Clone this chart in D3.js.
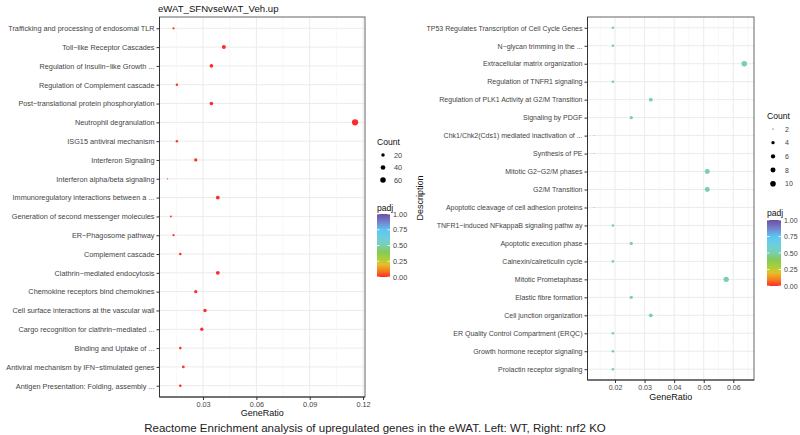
<!DOCTYPE html>
<html><head><meta charset="utf-8">
<script src="https://cdn.jsdelivr.net/npm/d3@7"></script>
<style>body{margin:0;background:#fff;} svg{display:block;} text{font-family:"Liberation Sans",Arial,Helvetica,sans-serif;}</style>
</head><body><svg id="c" width="800" height="435"></svg>
<script>
// ---------- DATA ----------
const leftTitle = "eWAT_SFNvseWAT_Veh.up";
const caption = "Reactome Enrichment analysis of upregulated genes in the eWAT. Left: WT, Right: nrf2 KO";

const leftTerms = [
  "Trafficking and processing of endosomal TLR",
  "Toll\u2212like Receptor Cascades",
  "Regulation of Insulin\u2212like Growth ...",
  "Regulation of Complement cascade",
  "Post\u2212translational protein phosphorylation",
  "Neutrophil degranulation",
  "ISG15 antiviral mechanism",
  "Interferon Signaling",
  "Interferon alpha/beta signaling",
  "Immunoregulatory interactions between a ...",
  "Generation of second messenger molecules",
  "ER\u2212Phagosome pathway",
  "Complement cascade",
  "Clathrin\u2212mediated endocytosis",
  "Chemokine receptors bind chemokines",
  "Cell surface interactions at the vascular wall",
  "Cargo recognition for clathrin\u2212mediated ...",
  "Binding and Uptake of ...",
  "Antiviral mechanism by IFN\u2212stimulated genes",
  "Antigen Presentation: Folding, assembly ..."
];
const leftRatio = [0.0134,0.0417,0.0347,0.0153,0.0347,0.1155,0.0153,0.0259,0.0100,0.0383,
                   0.0119,0.0134,0.0172,0.0383,0.0259,0.0311,0.0293,0.0172,0.0189,0.0172];
const leftCount = [7,22,18,8,18,61,8,14,5,20,6,7,9,20,14,16,15,9,10,9];
const leftPadj  = [0.01,0.001,0.002,0.01,0.002,0.0001,0.01,0.005,0.02,0.001,
                   0.02,0.01,0.01,0.001,0.005,0.003,0.004,0.01,0.01,0.01];

const rightTerms = [
  "TP53 Regulates Transcription of Cell Cycle Genes",
  "N\u2212glycan trimming in the ...",
  "Extracellular matrix organization",
  "Regulation of TNFR1 signaling",
  "Regulation of PLK1 Activity at G2/M Transition",
  "Signaling by PDGF",
  "Chk1/Chk2(Cds1) mediated inactivation of ...",
  "Synthesis of PE",
  "Mitotic G2\u2212G2/M phases",
  "G2/M Transition",
  "Apoptotic cleavage of cell adhesion  proteins",
  "TNFR1\u2212induced NFkappaB signaling pathw ay",
  "Apoptotic execution phase",
  "Calnexin/calreticulin cycle",
  "Mitotic Prometaphase",
  "Elastic fibre formation",
  "Cell junction organization",
  "ER Quality Control Compartment (ERQC)",
  "Growth hormone receptor signaling",
  "Prolactin receptor signaling"
];
const rightRatio = [0.0193,0.0193,0.0637,0.0193,0.0321,0.0255,0.0129,0.0129,0.0512,0.0512,
                    0.0129,0.0193,0.0255,0.0193,0.0576,0.0255,0.0321,0.0193,0.0193,0.0193];
const rightCount = [3,3,10,3,5,4,2,2,8,8,2,3,4,3,9,4,5,3,3,3];
const rightPadj  = [0.5,0.5,0.5,0.5,0.5,0.5,0.5,0.5,0.5,0.5,0.5,0.5,0.5,0.5,0.5,0.5,0.5,0.5,0.5,0.5];

const leftXTicks = [0.03,0.06,0.09,0.12];
const rightXTicks = [0.02,0.03,0.04,0.05,0.06];
const leftSizeBreaks = [20,40,60];
const rightSizeBreaks = [2,4,6,8,10];
const padjBreaks = [0,0.25,0.5,0.75,1];
const padjLabels = ["0.00","0.25","0.50","0.75","1.00"];

// palette (padj colour scale)
const palStops  = [0, 0.10, 0.20, 0.30, 0.40, 0.50, 0.62, 0.75, 0.87, 1.0];
const palColors = ["#ff2a2a","#f7801e","#e3c02a","#a6cf3a","#86c95a","#78d0ae","#6ecfe0","#5cc6f2","#7583cf","#6b4ea3"];

// ---------- DRAW ----------
const svg = d3.select("#c");
svg.append("rect").attr("width",800).attr("height",435).attr("fill","#fff");
const color = d3.scaleLinear().domain(palStops).range(palColors).interpolate(d3.interpolateRgb);
let gradId = 0;

function drawPanel(cfg){
  const g = svg.append("g");
  const x = d3.scaleLinear().domain(cfg.xDomain).range([cfg.x0, cfg.x1]);
  const y = d3.scalePoint().domain(cfg.terms).range([cfg.y0, cfg.y1]).padding(0.6);
  const [cmin, cmax] = d3.extent(cfg.counts);
  const t = d3.scaleLinear().domain([cmin, cmax]).range([0,1]).clamp(true);
  const diam = c => cfg.dMin + (cfg.dMax - cfg.dMin) * Math.sqrt(t(c));

  // minor grid
  const step = cfg.ticks[1]-cfg.ticks[0];
  const minors = [];
  for (let v = cfg.ticks[0]-step/2; v <= cfg.xDomain[1]; v += step) if (v >= cfg.xDomain[0]) minors.push(v);
  g.selectAll(".mn").data(minors).join("line")
    .attr("x1",d=>x(d)).attr("x2",d=>x(d)).attr("y1",cfg.y0).attr("y2",cfg.y1)
    .attr("stroke","#f3f3f3").attr("stroke-width",0.6);
  // major grid
  g.selectAll(".mj").data(cfg.ticks).join("line")
    .attr("x1",d=>x(d)).attr("x2",d=>x(d)).attr("y1",cfg.y0).attr("y2",cfg.y1)
    .attr("stroke","#ebebeb").attr("stroke-width",1);
  g.selectAll(".hy").data(cfg.terms).join("line")
    .attr("x1",cfg.x0).attr("x2",cfg.x1).attr("y1",d=>y(d)).attr("y2",d=>y(d))
    .attr("stroke","#ebebeb").attr("stroke-width",1);

  // points
  const data = cfg.terms.map((d,i)=>({term:d, r:cfg.ratio[i], c:cfg.counts[i], p:cfg.padj[i]}));
  g.selectAll(".pt").data(data).join("circle")
    .attr("cx",d=>x(d.r)).attr("cy",d=>y(d.term)).attr("r",d=>diam(d.c)/2)
    .attr("fill",d=>color(d.p));

  // border
  g.append("rect").attr("x",cfg.x0).attr("y",cfg.y0).attr("width",cfg.x1-cfg.x0).attr("height",cfg.y1-cfg.y0)
    .attr("fill","none").attr("stroke","#666").attr("stroke-width",1);
  g.append("line").attr("x1",cfg.x0).attr("x2",cfg.x0).attr("y1",cfg.y0).attr("y2",cfg.y1).attr("stroke","#333");
  g.append("line").attr("x1",cfg.x0).attr("x2",cfg.x1).attr("y1",cfg.y1).attr("y2",cfg.y1).attr("stroke","#333");

  // y axis
  const ya = g.append("g").attr("transform",`translate(${cfg.x0},0)`)
    .call(d3.axisLeft(y).tickSize(3).tickPadding(2));
  ya.select(".domain").remove();
  ya.selectAll("line").attr("stroke","#333");
  ya.selectAll("text").attr("font-size",cfg.fs).attr("fill","#444").attr("font-family",null);
  // x axis
  const xa = g.append("g").attr("transform",`translate(0,${cfg.y1})`)
    .call(d3.axisBottom(x).tickValues(cfg.ticks).tickFormat(d3.format(".2f")).tickSize(3).tickPadding(2));
  xa.select(".domain").remove();
  xa.selectAll("line").attr("stroke","#333");
  xa.selectAll("text").attr("font-size",cfg.fs).attr("fill","#444").attr("font-family",null);
  g.append("text").attr("x",(cfg.x0+cfg.x1)/2).attr("y",cfg.y1+cfg.xTitleDy).attr("text-anchor","middle")
    .attr("font-size",9).attr("fill","#111").text("GeneRatio");

  // size legend
  const L = cfg.leg;
  g.append("text").attr("x",L.x).attr("y",L.countY).attr("font-size",8.6).attr("fill","#111").text("Count");
  cfg.sizeBreaks.forEach((b,i)=>{
    const cy = L.countY + L.firstDy + i*L.dy;
    g.append("circle").attr("cx",L.dotX).attr("cy",cy).attr("r",diam(b)/2*L.legScale).attr("fill","#000");
    g.append("text").attr("x",L.labX).attr("y",cy+2.5).attr("font-size",cfg.fs).attr("fill","#444").text(b);
  });
  // colour legend
  g.append("text").attr("x",L.x).attr("y",L.padjY).attr("font-size",8.6).attr("fill","#111").text("padj");
  const id = "grad"+(gradId++);
  const grad = svg.append("defs").append("linearGradient").attr("id",id)
    .attr("x1",0).attr("y1",1).attr("x2",0).attr("y2",0);
  d3.range(0,1.0001,0.05).forEach(v=>grad.append("stop").attr("offset",v).attr("stop-color",color(v)));
  const cb = d3.scaleLinear().domain([0,1]).range([L.barY1, L.barY0]);
  g.append("rect").attr("x",L.x).attr("y",L.barY0).attr("width",L.barW).attr("height",L.barY1-L.barY0)
    .attr("fill",`url(#${id})`);
  padjBreaks.forEach((b,i)=>{
    const yy = cb(b);
    g.append("line").attr("x1",L.x).attr("x2",L.x+2.5).attr("y1",yy).attr("y2",yy).attr("stroke","#fff").attr("stroke-width",0.8);
    g.append("line").attr("x1",L.x+L.barW-2.5).attr("x2",L.x+L.barW).attr("y1",yy).attr("y2",yy).attr("stroke","#fff").attr("stroke-width",0.8);
    g.append("text").attr("x",L.x+L.barW+3).attr("y",yy+2.5).attr("font-size",cfg.fs).attr("fill","#444").text(padjLabels[i]);
  });
  return g;
}

drawPanel({
  terms:leftTerms, ratio:leftRatio, counts:leftCount, padj:leftPadj,
  xDomain:[0.0055,0.1211], x0:159.5, x1:365, y0:17, y1:397, ticks:leftXTicks, fs:7.3,
  dMin:1.3, dMax:6.2, sizeBreaks:leftSizeBreaks, xTitleDy:19,
  leg:{x:377, countY:144.5, firstDy:10.5, dy:12.5, dotX:383, labX:394, legScale:0.9,
       padjY:210.5, barY0:214, barY1:277, barW:13}
});
drawPanel({
  terms:rightTerms, ratio:rightRatio, counts:rightCount, padj:rightPadj,
  xDomain:[0.0107,0.067], x0:587.5, x1:754, y0:17, y1:380, ticks:rightXTicks, fs:7.0,
  dMin:1.0, dMax:5.6, sizeBreaks:rightSizeBreaks, xTitleDy:20,
  leg:{x:767, countY:118.5, firstDy:10.5, dy:13.7, dotX:773, labX:785, legScale:1,
       padjY:215.5, barY0:220, barY1:286, barW:14}
});

svg.append("text").attr("x",158).attr("y",12).attr("font-size",9.6).attr("fill","#111").text(leftTitle);
svg.append("text").attr("transform","translate(423,198) rotate(-90)").attr("text-anchor","middle")
  .attr("font-size",9).attr("fill","#111").text("Description");
svg.append("text").attr("x",375).attr("y",432).attr("text-anchor","middle")
  .attr("font-size",11.5).attr("fill","#222").text(caption);
</script></body></html>
